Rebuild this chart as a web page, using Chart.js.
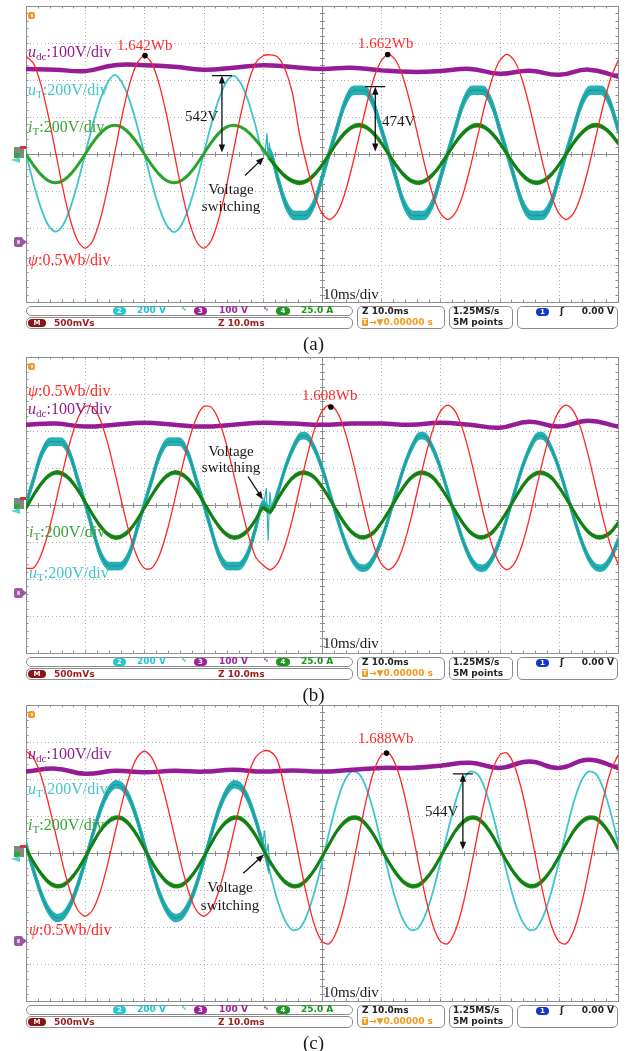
<!DOCTYPE html>
<html>
<head>
<meta charset="utf-8">
<title>Scope captures (a) (b) (c)</title>
<script src="https://cdn.jsdelivr.net/npm/chart.js@4.4.1/dist/chart.umd.min.js"></script>
<style>
  html, body { margin: 0; padding: 0; background: #fff; }
  body { width: 627px; height: 1051px; position: relative; overflow: hidden;
         font-family: "Liberation Serif", "Times New Roman", serif; }
  .panel { position: absolute; left: 0; width: 627px; height: 350px; }
  .panel canvas { position: absolute; left: 0; top: 0; }
  .lbl { position: absolute; white-space: nowrap; line-height: 1; transform: translateY(-50%); font-size: 16px; }
  .lbl.ctr { transform: translate(-50%, -50%); }
  .lbl sub { font-size: 0.7em; position: relative; top: 0.3em; vertical-align: baseline; }
  .val { font-size: 15px; }
  .red { color: #ff2a2a; } .pur { color: #8e1d8e; } .cya { color: #45c4c9; }
  .grn { color: #35a535; } .blk { color: #1a1a1a; }
  .cap { position: absolute; left: 0; width: 627px; text-align: center; top: 343px;
         transform: translateY(-50%); font-size: 19px; line-height: 1; color: #1a1a1a; }
  .box { position: absolute; border: 1px solid #8c8c8c; border-radius: 5px; box-sizing: border-box;
         font-family: "DejaVu Sans", sans-serif; font-weight: bold; font-size: 9px; line-height: 1; background: #fff; }
  .box span { position: absolute; white-space: nowrap; }
  .chip { height: 8px; border-radius: 4px; color: #fff; font-size: 7px; line-height: 8px; text-align: center; }
</style>
</head>
<body>
<script>
// time base: one sample every 1.25 ms over the 10 x 10 ms screen
const T = Array.from({ length: 81 }, (_, i) => i * 1.25);
// the dc-link traces are read every 5 ms
const T5 = Array.from({ length: 21 }, (_, i) => i * 5);

// ---------- (a) ---------- values in screen divisions
const psiA = [2.65,2.45,1.89,1.05,0.05,-0.95,-1.79,-2.35,-2.55,-2.35,-1.79,-0.95,0.05,1.05,1.89,2.45,
  2.65,2.45,1.89,1.05,0.05,-0.95,-1.79,-2.35,-2.55,-2.35,-1.79,-0.95,0.05,1.05,1.89,2.45,
  2.65,2.68,2.62,2.30,1.65,0.50,-0.35,-1.10,-1.60,-1.77,-1.60,-1.12,-0.39,0.46,1.31,2.04,2.52,
  2.69,2.52,2.04,1.31,0.46,-0.39,-1.12,-1.60,-1.77,-1.60,-1.12,-0.39,0.46,1.31,2.04,2.52,
  2.69,2.52,2.04,1.31,0.46,-0.39,-1.12,-1.60,-1.77,-1.60,-1.12,-0.39,0.46,1.31,2.04,2.52];
const uTA = [0,-0.78,-1.45,-1.92,-2.10,-1.92,-1.45,-0.78,0,0.78,1.45,1.92,2.14,1.92,1.45,0.78,
  0,-0.78,-1.45,-1.92,-2.11,-1.92,-1.45,-0.78,0,0.78,1.45,1.92,2.12,1.92,1.45,0.78,
  0.05,
  0.03,-0.65,-1.30,-1.64,-1.66,-1.64,-1.30,-0.65,0.03,0.68,1.33,1.70,1.72,1.70,1.33,0.68,
  0.03,-0.65,-1.30,-1.64,-1.66,-1.64,-1.30,-0.65,0.03,0.68,1.33,1.70,1.72,1.70,1.33,0.68,
  0.03,-0.65,-1.30,-1.64,-1.66,-1.64,-1.30,-0.65,0.03,0.68,1.33,1.70,1.72,1.70,1.33,0.68];
const iTA = [0,-0.30,-0.55,-0.72,-0.78,-0.72,-0.55,-0.30,0,0.30,0.55,0.72,0.78,0.72,0.55,0.30,
  0,-0.30,-0.55,-0.72,-0.78,-0.72,-0.55,-0.30,0,0.30,0.55,0.72,
  0.78,0.73,0.60,0.39,0.14,-0.14,-0.39,-0.60,-0.73,
  -0.78,-0.72,-0.55,-0.30,0,0.30,0.55,0.72,0.78,0.72,0.55,0.30,0,-0.30,-0.55,-0.72,
  -0.78,-0.72,-0.55,-0.30,0,0.30,0.55,0.72,0.78,0.72,0.55,0.30,0,-0.30,-0.55,-0.72,
  -0.78,-0.72,-0.55,-0.30,0,0.30,0.55,0.72,0.78,0.72,0.55,0.30];
const udcA = [2.30,2.28,2.24,2.40,2.40,2.36,2.28,2.33,2.40,2.35,2.30,2.33,2.26,2.22,2.24,2.30,2.17,2.25,2.14,2.28,2.09];
const spikeAT = [40.4,40.7,40.9,41.1,41.4];
const spikeAV = [0.05,0.55,-0.15,0.30,-0.20];
const peakAT = [20.1,61.1];
const peakAV = [2.66,2.69];
const arrowAT = [33.1,59.0];
const arrowATop = [2.12,1.82];
const arrowABot = [0.04,0.07];
const pointerA = [37.0,-0.58,40.2,-0.09];

// ---------- (b) ----------
const psiB = [-1.71,-1.70,-1.37,-0.75,0.06,0.93,1.73,2.34,2.66,2.65,2.32,1.70,0.89,0.02,-0.78,-1.39,
  -1.71,-1.70,-1.37,-0.75,0.06,0.93,1.73,2.34,2.66,2.65,2.32,1.70,0.89,0.02,-0.78,-1.39,
  -1.62,
  -1.75,-1.58,-1.10,-0.38,0.48,1.33,2.05,2.53,2.70,2.53,2.05,1.33,0.48,-0.38,-1.10,-1.58,
  -1.75,-1.58,-1.10,-0.38,0.48,1.33,2.05,2.53,2.70,2.53,2.05,1.33,0.48,-0.38,-1.10,-1.58,
  -1.75,-1.58,-1.10,-0.38,0.48,1.33,2.05,2.53,2.70,2.53,2.05,1.33,0.48,-0.38,-1.10,-1.58];
const uTB = [0.03,0.68,1.33,1.69,1.71,1.69,1.33,0.68,0.03,-0.65,-1.30,-1.63,-1.65,-1.63,-1.30,-0.65,
  0.03,0.68,1.33,1.69,1.71,1.69,1.33,0.68,0.03,-0.65,-1.30,-1.63,-1.65,-1.63,-1.30,-0.65,
  0.03,
  -0.15,0.33,0.98,1.50,1.85,1.85,1.52,1.00,0.36,-0.32,-0.94,-1.42,-1.68,-1.69,-1.44,-0.97,
  -0.35,0.33,0.98,1.50,1.85,1.85,1.52,1.00,0.36,-0.32,-0.94,-1.42,-1.68,-1.69,-1.44,-0.97,
  -0.35,0.33,0.98,1.50,1.85,1.85,1.52,1.00,0.36,-0.32,-0.94,-1.42,-1.68,-1.69,-1.44,-0.97];
const iTB = [-0.08,0.26,0.56,0.78,0.88,0.84,0.68,0.41,0.08,-0.26,-0.56,-0.78,-0.88,-0.84,-0.68,-0.41,
  -0.08,0.26,0.56,0.78,0.88,0.84,0.68,0.41,0.08,-0.26,-0.56,-0.78,-0.88,-0.84,-0.68,-0.41,
  -0.08,
  -0.18,0.16,0.48,0.73,0.86,0.86,0.74,0.49,0.18,-0.16,-0.48,-0.73,-0.86,-0.86,-0.74,-0.49,
  -0.18,0.16,0.48,0.73,0.86,0.86,0.74,0.49,0.18,-0.16,-0.48,-0.73,-0.86,-0.86,-0.74,-0.49,
  -0.18,0.16,0.48,0.73,0.86,0.86,0.74,0.49,0.18,-0.16,-0.48,-0.73,-0.86,-0.86,-0.74,-0.49];
const udcB = [2.17,2.20,2.12,2.17,2.22,2.17,2.12,2.17,2.22,2.20,2.17,2.20,2.20,2.17,2.22,2.17,2.09,2.25,2.12,2.28,2.12];
const spikeBT = [40.2,40.6,40.9,41.2,41.5];
const spikeBV = [0.05,0.45,-0.95,0.35,-0.15];
const peakBT = [51.5];
const peakBV = [2.65];
const arrowBT = [];
const arrowBTop = [];
const arrowBBot = [];
const pointerB = [37.5,0.77,40.0,0.15];

// ---------- (c) ----------
const psiC = [2.75,2.58,2.10,1.37,0.52,-0.33,-1.06,-1.54,-1.71,-1.54,-1.06,-0.33,0.52,1.37,2.10,2.58,
  2.75,2.58,2.10,1.37,0.52,-0.33,-1.06,-1.54,-1.71,-1.54,-1.06,-0.33,0.52,1.37,2.10,2.58,
  2.75,2.74,2.50,1.69,0.77,-0.24,-1.20,-1.96,
  -2.39,-2.45,-2.11,-1.44,-0.52,0.49,1.45,2.21,2.64,2.70,2.36,1.69,0.77,-0.24,-1.20,-1.96,
  -2.39,-2.45,-2.11,-1.44,-0.52,0.49,1.45,2.21,2.64,2.70,2.36,1.69,0.77,-0.24,-1.20,-1.96,
  -2.39,-2.45,-2.11,-1.44,-0.52,0.49,1.45,2.21,2.64];
const uTC = [0.23,-0.46,-1.08,-1.53,-1.75,-1.70,-1.39,-0.87,-0.22,0.49,1.14,1.62,1.85,1.79,1.47,0.92,
  0.23,-0.46,-1.08,-1.53,-1.75,-1.70,-1.39,-0.87,-0.22,0.49,1.14,1.62,1.85,1.79,1.47,0.92,
  0.23,
  -0.55,-1.29,-1.82,-2.08,-2.03,-1.66,-1.04,-0.26,0.59,1.36,1.93,2.20,2.14,1.75,1.10,
  0.28,-0.55,-1.29,-1.82,-2.08,-2.03,-1.66,-1.04,-0.26,0.59,1.36,1.93,2.20,2.14,1.75,1.10,
  0.28,-0.55,-1.29,-1.82,-2.08,-2.03,-1.66,-1.04,-0.26,0.59,1.36,1.93,2.20,2.14,1.75,1.10,
  0.28];
const iTC = [0.12,-0.24,-0.55,-0.78,-0.89,-0.87,-0.71,-0.45,-0.11,0.25,0.59,0.83,0.95,0.93,0.76,0.48,
  0.12,-0.24,-0.55,-0.78,-0.89,-0.87,-0.71,-0.45,-0.11,0.25,0.59,0.83,0.95,0.93,0.76,0.48,
  0.12,-0.24,-0.55,-0.78,-0.89,-0.87,-0.71,-0.45,-0.11,0.25,0.59,0.83,0.95,0.93,0.76,0.48,
  0.12,-0.24,-0.55,-0.78,-0.89,-0.87,-0.71,-0.45,-0.11,0.25,0.59,0.83,0.95,0.93,0.76,0.48,
  0.12,-0.24,-0.55,-0.78,-0.89,-0.87,-0.71,-0.45,-0.11,0.25,0.59,0.83,0.95,0.93,0.76,0.48,
  0.12];
const udcC = [2.20,2.28,2.14,2.22,2.18,2.22,2.20,2.25,2.20,2.23,2.20,2.25,2.30,2.30,2.36,2.44,2.30,2.47,2.30,2.52,2.30];
const spikeCT = [40.0,40.3,40.6,40.9,41.2];
const spikeCV = [0.30,0.60,-0.05,0.25,-0.35];
const peakCT = [60.9];
const peakCV = [2.70];
const arrowCT = [73.8];
const arrowCTop = [2.14];
const arrowCBot = [0.09];
const pointerC = [36.7,-0.55,40.2,-0.04];

const SWITCH_T = 41;      // ms, voltage switching instant
const UDC_GROUND = -2.38; // div, ch3 ground marker

const statusBar = `
  <div class="box" style="left:26px;top:306px;width:327px;height:10px">
    <span class="chip" style="left:86px;top:0;width:13px;background:#25c6d6">2</span>
    <span style="left:110px;top:-1px;color:#25c2d2">200 V</span>
    <span style="left:154px;top:-1px;font-size:7px;color:#25c2d2">&#8767;</span>
    <span class="chip" style="left:167px;top:0;width:13px;background:#9c1f9c">3</span>
    <span style="left:192px;top:-1px;color:#a024a0">100 V</span>
    <span style="left:236px;top:-1px;font-size:7px;color:#a024a0">&#8767;</span>
    <span class="chip" style="left:249px;top:0;width:14px;background:#1c981c">4</span>
    <span style="left:274px;top:-1px;color:#1c981c">25.0 A</span>
  </div>
  <div class="box" style="left:26px;top:317px;width:327px;height:12px">
    <span class="chip" style="left:1px;top:1px;width:18px;background:#8e1414">M</span>
    <span style="left:27px;top:1px;color:#9c1c1c">500mVs</span>
    <span style="left:191px;top:1px;color:#9c1c1c">Z 10.0ms</span>
  </div>
  <div class="box" style="left:357px;top:306px;width:88px;height:23px">
    <span style="left:4px;top:0;color:#222">Z 10.0ms</span>
    <span class="chip" style="left:4px;top:11px;width:6px;border-radius:1px;background:#f39a1c">T</span>
    <span style="left:11px;top:11px;color:#f39a1c">&#8594;&#9660;0.00000 s</span>
  </div>
  <div class="box" style="left:449px;top:306px;width:64px;height:23px">
    <span style="left:3px;top:0;color:#222">1.25MS/s</span>
    <span style="left:3px;top:11px;color:#222">5M points</span>
  </div>
  <div class="box" style="left:517px;top:306px;width:101px;height:23px">
    <span class="chip" style="left:18px;top:1px;width:13px;background:#1538c8">1</span>
    <span style="left:42px;top:0;color:#222">&#643;</span>
    <span style="right:3px;top:0;color:#222">0.00 V</span>
  </div>`;

const U_DC = '<i>u</i><sub>dc</sub>:100V/div';
const U_T = '<i>u</i><sub>T</sub>:200V/div';
const I_T = '<i>i</i><sub>T</sub>:200V/div';
const PSI = '<i>&psi;</i>:0.5Wb/div';

// trace looks: [width, colour] before / after switching, plus noisy bands [from ms, to ms, half-height px]
const THIN_CYAN = [1.8, '#3fc6ca'];
const CORE_CYAN = [1.4, '#1d9a9d'];
const THIN_GREEN = [3, '#2da22d'];
const CORE_GREEN = [2.5, '#167e16'];

const panels = [
  {
    top: 0, caption: '(a)', psi: psiA, uT: uTA, iT: iTA, udc: udcA,
    spikeT: spikeAT, spikeV: spikeAV, peakT: peakAT, peakV: peakAV,
    arrT: arrowAT, arrTop: arrowATop, arrBot: arrowABot, pointer: pointerA,
    cyan: [THIN_CYAN, CORE_CYAN], cyanBand: [[SWITCH_T, 100, 4]],
    green: [THIN_GREEN, CORE_GREEN], greenBand: [[SWITCH_T, 100, 1.5]],
    labels: `
      <div class="lbl pur" style="left:28px;top:52px">${U_DC}</div>
      <div class="lbl red val" style="left:117px;top:45px">1.642Wb</div>
      <div class="lbl cya" style="left:28px;top:90px">${U_T}</div>
      <div class="lbl grn" style="left:28px;top:127px">${I_T}</div>
      <div class="lbl blk val" style="left:185px;top:116px">542V</div>
      <div class="lbl red val" style="left:358px;top:43px">1.662Wb</div>
      <div class="lbl blk val" style="left:382px;top:121px">474V</div>
      <div class="lbl blk val ctr" style="left:231px;top:189px">Voltage</div>
      <div class="lbl blk val ctr" style="left:231px;top:206px">switching</div>
      <div class="lbl red" style="left:28px;top:260px">${PSI}</div>
      <div class="lbl blk val" style="left:323px;top:294px">10ms/div</div>`
  },
  {
    top: 351, caption: '(b)', psi: psiB, uT: uTB, iT: iTB, udc: udcB,
    spikeT: spikeBT, spikeV: spikeBV, peakT: peakBT, peakV: peakBV,
    arrT: arrowBT, arrTop: arrowBTop, arrBot: arrowBBot, pointer: pointerB,
    cyan: [CORE_CYAN, CORE_CYAN], cyanBand: [[0, SWITCH_T, 3.5], [SWITCH_T, 100, 3]],
    green: [CORE_GREEN, CORE_GREEN], greenBand: [[0, 100, 1.5]],
    labels: `
      <div class="lbl red" style="left:28px;top:40px">${PSI}</div>
      <div class="lbl pur" style="left:28px;top:58px">${U_DC}</div>
      <div class="lbl red val" style="left:302px;top:44px">1.608Wb</div>
      <div class="lbl blk val ctr" style="left:231px;top:100px">Voltage</div>
      <div class="lbl blk val ctr" style="left:231px;top:116px">switching</div>
      <div class="lbl grn" style="left:29px;top:181px">${I_T}</div>
      <div class="lbl cya" style="left:29px;top:222px">${U_T}</div>
      <div class="lbl blk val" style="left:323px;top:292px">10ms/div</div>`
  },
  {
    top: 699, caption: '(c)', psi: psiC, uT: uTC, iT: iTC, udc: udcC,
    spikeT: spikeCT, spikeV: spikeCV, peakT: peakCT, peakV: peakCV,
    arrT: arrowCT, arrTop: arrowCTop, arrBot: arrowCBot, pointer: pointerC,
    cyan: [CORE_CYAN, THIN_CYAN], cyanBand: [[0, SWITCH_T, 3.5]],
    green: [CORE_GREEN, CORE_GREEN], greenBand: [[0, 100, 1.5]],
    labels: `
      <div class="lbl pur" style="left:28px;top:55px">${U_DC}</div>
      <div class="lbl cya" style="left:28px;top:90px">${U_T}</div>
      <div class="lbl grn" style="left:28px;top:126px">${I_T}</div>
      <div class="lbl red val" style="left:358px;top:39px">1.688Wb</div>
      <div class="lbl blk val" style="left:425px;top:112px">544V</div>
      <div class="lbl blk val ctr" style="left:230px;top:188px">Voltage</div>
      <div class="lbl blk val ctr" style="left:230px;top:206px">switching</div>
      <div class="lbl red" style="left:29px;top:231px">${PSI}</div>
      <div class="lbl blk val" style="left:323px;top:293px">10ms/div</div>`
  }
];

function pts(xs, ys) { return xs.map((x, i) => ({ x, y: ys[i] })); }

// scope graticule: dotted divisions, solid centre cross and frame with minor ticks
const scopeGrid = {
  id: 'scopeGrid',
  beforeDatasetsDraw(chart) {
    const { ctx, chartArea: a, scales: { x, y } } = chart;
    ctx.save();
    ctx.fillStyle = '#ababab';
    for (let d = 10; d < 100; d += 10) {
      if (d === 50) continue;
      const px = Math.round(x.getPixelForValue(d));
      for (let v = -4; v <= 4.001; v += 0.1) ctx.fillRect(px, Math.round(y.getPixelForValue(v)), 1, 1);
    }
    for (let d = -3; d <= 3; d++) {
      if (d === 0) continue;
      const py = Math.round(y.getPixelForValue(d));
      for (let t = 0; t <= 100.001; t += 0.625) ctx.fillRect(Math.round(x.getPixelForValue(t)), py, 1, 1);
    }
    const cx = Math.round(x.getPixelForValue(50)) + 0.5;
    const cy = Math.round(y.getPixelForValue(0)) + 0.5;
    ctx.strokeStyle = '#8e8e8e';
    ctx.lineWidth = 1;
    ctx.beginPath();
    ctx.moveTo(cx, a.top); ctx.lineTo(cx, a.bottom);
    ctx.moveTo(a.left, cy); ctx.lineTo(a.right, cy);
    for (let t = 2; t < 100; t += 2) {
      const px = Math.round(x.getPixelForValue(t)) + 0.5;
      ctx.moveTo(px, cy - 2.5); ctx.lineTo(px, cy + 2.5);
      ctx.moveTo(px, a.top); ctx.lineTo(px, a.top + 2.5);
      ctx.moveTo(px, a.bottom); ctx.lineTo(px, a.bottom - 2.5);
    }
    for (let v = -3.8; v < 4; v += 0.2) {
      const py = Math.round(y.getPixelForValue(v)) + 0.5;
      ctx.moveTo(cx - 2.5, py); ctx.lineTo(cx + 2.5, py);
      ctx.moveTo(a.left, py); ctx.lineTo(a.left + 2.5, py);
      ctx.moveTo(a.right, py); ctx.lineTo(a.right - 2.5, py);
    }
    ctx.stroke();
    ctx.strokeRect(Math.round(a.left) + 0.5, Math.round(a.top) + 0.5,
      Math.round(a.right - a.left), Math.round(a.bottom - a.top));
    ctx.restore();
  }
};

// noisy acquisition: the band datasets are stroked several times, shifted up and down
const noiseBand = {
  id: 'noiseBand',
  beforeDatasetDraw(chart, args) {
    const ds = chart.data.datasets[args.index];
    if (!ds.band) return;
    const { ctx, chartArea: a, scales: { x } } = chart;
    const el = args.meta.dataset;
    ds.band.forEach(([t0, t1, half]) => {
      const xl = Math.max(a.left, x.getPixelForValue(t0));
      const xr = Math.min(a.right, x.getPixelForValue(t1));
      ctx.save();
      ctx.beginPath();
      ctx.rect(xl, a.top, xr - xl, a.bottom - a.top);
      ctx.clip();
      for (let dy = -half; dy <= half + 0.01; dy += 1) {
        ctx.save();
        ctx.translate(0, dy);
        el.draw(ctx, a);
        ctx.restore();
      }
      ctx.restore();
    });
    return false;
  }
};

function head(ctx, x0, y0, x1, y1) {
  const ang = Math.atan2(y1 - y0, x1 - x0), L = 8, W = 3.2;
  ctx.beginPath();
  ctx.moveTo(x1, y1);
  ctx.lineTo(x1 - L * Math.cos(ang) + W * Math.sin(ang), y1 - L * Math.sin(ang) - W * Math.cos(ang));
  ctx.lineTo(x1 - L * Math.cos(ang) - W * Math.sin(ang), y1 - L * Math.sin(ang) + W * Math.cos(ang));
  ctx.closePath();
  ctx.fill();
}

function marksFor(p) {
  return {
    id: 'scopeMarks',
    afterDatasetsDraw(chart) {
      const { ctx, scales: { x, y } } = chart;
      ctx.save();
      ctx.strokeStyle = '#111';
      ctx.fillStyle = '#111';
      ctx.lineWidth = 1.3;
      // measured amplitude arrows
      p.arrT.forEach((t, i) => {
        const px = x.getPixelForValue(t);
        const yt = y.getPixelForValue(p.arrTop[i]);
        const yb = y.getPixelForValue(p.arrBot[i]);
        ctx.beginPath();
        ctx.moveTo(px - 10, yt); ctx.lineTo(px + 10, yt);
        ctx.moveTo(px, yt + 4); ctx.lineTo(px, yb - 4);
        ctx.stroke();
        head(ctx, px, yb, px, yt);
        head(ctx, px, yt, px, yb);
      });
      // pointer to the switching instant
      const [t0, v0, t1, v1] = p.pointer;
      const x0 = x.getPixelForValue(t0), y0 = y.getPixelForValue(v0);
      const x1 = x.getPixelForValue(t1), y1 = y.getPixelForValue(v1);
      ctx.beginPath();
      ctx.moveTo(x0, y0);
      ctx.lineTo(x1 - (x1 - x0) * 0.25, y1 - (y1 - y0) * 0.25);
      ctx.stroke();
      head(ctx, x0, y0, x1, y1);
      ctx.restore();
    },
    afterDraw(chart) {
      const { ctx, scales: { y } } = chart;
      ctx.save();
      // trigger position tag
      ctx.fillStyle = '#f39a26';
      ctx.beginPath(); ctx.roundRect(28, 12, 7, 7, 2); ctx.fill();
      ctx.fillStyle = '#fde3b8';
      ctx.fillRect(31, 14, 2, 3);
      // channel ground tags at 0 div
      const g = Math.round(y.getPixelForValue(0));
      ctx.fillStyle = '#7e8a7e';
      ctx.fillRect(14, g - 7, 10, 11);
      ctx.fillStyle = '#3aa040';
      ctx.fillRect(14, g - 1, 6, 5);
      ctx.fillStyle = '#e03030';
      ctx.fillRect(20, g - 8, 6, 3);
      ctx.fillStyle = '#5fd0d6';
      ctx.beginPath(); ctx.moveTo(11, g + 6); ctx.lineTo(20, g + 3); ctx.lineTo(20, g + 9); ctx.closePath(); ctx.fill();
      // dc-link ground tag
      const q = Math.round(y.getPixelForValue(UDC_GROUND));
      ctx.fillStyle = '#9a5aa2';
      ctx.beginPath(); ctx.roundRect(14, q - 5, 9, 10, 2); ctx.fill();
      ctx.beginPath(); ctx.moveTo(23, q - 3); ctx.lineTo(27, q); ctx.lineTo(23, q + 3); ctx.closePath(); ctx.fill();
      ctx.fillStyle = '#d8c0dc';
      ctx.fillRect(17, q - 2, 3, 4);
      ctx.restore();
    }
  };
}

function segStyle(pre, post) {
  return {
    borderWidth: c => (c.p0.parsed.x >= SWITCH_T ? post[0] : pre[0]),
    borderColor: c => (c.p0.parsed.x >= SWITCH_T ? post[1] : pre[1])
  };
}

panels.forEach(p => {
  const div = document.createElement('div');
  div.className = 'panel';
  div.style.top = p.top + 'px';
  div.innerHTML = `<canvas width="627" height="306"></canvas>${p.labels}${statusBar}<div class="cap">${p.caption}</div>`;
  document.body.appendChild(div);

  new Chart(div.querySelector('canvas'), {
    type: 'line',
    data: {
      datasets: [
        { data: pts(p.peakT, p.peakV), showLine: false, pointRadius: 2.8,
          pointBackgroundColor: '#000', pointBorderWidth: 0, order: 0 },
        { data: pts(T, p.psi), borderColor: '#ff2626', borderWidth: 1.3, order: 1 },
        { data: pts(T, p.iT), borderColor: p.green[0][1], borderWidth: p.green[0][0],
          segment: segStyle(p.green[0], p.green[1]), order: 2 },
        { data: pts(T, p.iT), band: p.greenBand, borderColor: '#1f951f', borderWidth: 1.6, order: 3 },
        { data: pts(T5, p.udc), borderColor: '#961b96', borderWidth: 4.5, tension: 0.45, order: 4 },
        { data: pts(p.spikeT, p.spikeV), borderColor: '#28b4b8', borderWidth: 1.2, tension: 0, order: 5 },
        { data: pts(T, p.uT), borderColor: p.cyan[0][1], borderWidth: p.cyan[0][0],
          segment: segStyle(p.cyan[0], p.cyan[1]), order: 6 },
        { data: pts(T, p.uT), band: p.cyanBand, borderColor: '#27b1b4', borderWidth: 1.6, order: 7 }
      ]
    },
    options: {
      responsive: false,
      animation: false,
      devicePixelRatio: 1,
      layout: { padding: { left: 26, right: 9, top: 6, bottom: 3 } },
      elements: {
        point: { radius: 0 },
        line: { tension: 0.3, borderCapStyle: 'round', borderJoinStyle: 'round' }
      },
      plugins: { legend: { display: false }, tooltip: { enabled: false } },
      scales: {
        x: { type: 'linear', min: 0, max: 100, display: false },
        y: { min: -4, max: 4, display: false }
      }
    },
    plugins: [scopeGrid, noiseBand, marksFor(p)]
  });
});
</script>
</body>
</html>
